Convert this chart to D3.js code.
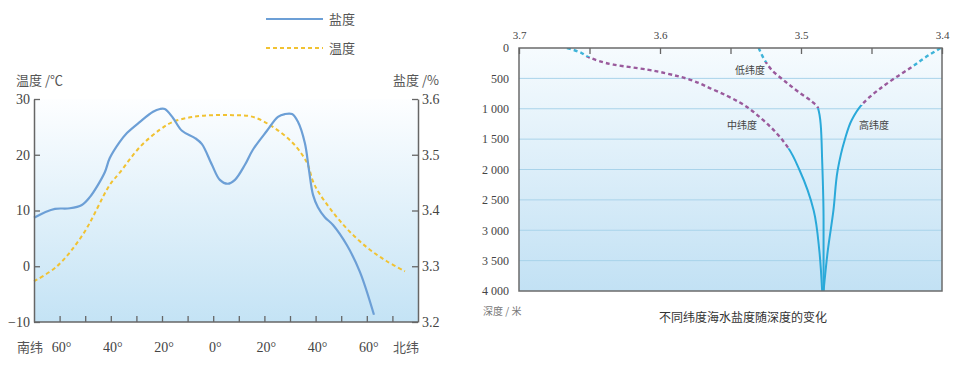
<!DOCTYPE html>
<html>
<head>
  <meta charset="utf-8">
  <title>海水盐度与温度</title>
  <style>
  body {
    margin: 0;
    background: #fff;
  }
  svg text.num {
    fill: #444;
  }
  svg text.cjk {
    font-family: "Noto Sans CJK SC", sans-serif;
    fill: #555;
  }
</style>
</head>
<body>
  <div id="viz"></div>

  <script src="https://d3js.org/d3.v7.min.js"></script>
  <script>
    // left chart: salinity / temperature by latitude
    const salLat = [-70, -65.7, -61.8, -56, -51.3, -48.2, -45, -42.3, -40.4, -36.5, -33.7, -28.6, -23.5, -20.8, -18.9, -15.7, -12.2, -7.1, -4.4, -0.5, 2.6, 5.7, 8.5, 12.4, 15.5, 21, 25.3, 28, 30.8, 33.1, 35.8, 37.4, 39, 40.9, 43.6, 46.8, 52.2, 57.3, 62.8];
    const salVal = [3.387, 3.397, 3.403, 3.404, 3.41, 3.424, 3.446, 3.469, 3.494, 3.523, 3.539, 3.559, 3.577, 3.582, 3.582, 3.566, 3.543, 3.53, 3.519, 3.482, 3.455, 3.448, 3.455, 3.482, 3.509, 3.543, 3.568, 3.573, 3.573, 3.559, 3.521, 3.473, 3.428, 3.406, 3.388, 3.374, 3.338, 3.29, 3.213];
    const tempLat = [-70, -61, -50.9, -40.4, -36.5, -28.6, -20.8, -15.7, -7.9, 0, 7.7, 15.5, 23.3, 31.1, 36.6, 39, 41.7, 50.7, 60, 67.8, 74.9];
    const tempVal = [-2.7, 0, 5.7, 14.6, 16.8, 21.4, 24.5, 25.9, 26.8, 27.1, 27.1, 26.8, 25, 22.1, 18.6, 15.2, 12.9, 7.5, 3.4, 0.9, -0.9];
    const tempTicks = [-10, 0, 10, 20, 30];
    const salTicks = [3.2, 3.3, 3.4, 3.5, 3.6];
    const latTicks = [-60, -50, -40, -30, -20, -10, 0, 10, 20, 30, 40, 50, 60, 70];
    const latLabelled = [-60, -40, -20, 0, 20, 40, 60];

    // right chart: salinity by depth for three latitude bands
    const depthTicks = [0, 500, 1000, 1500, 2000, 2500, 3000, 3500, 4000];
    const salTopTicks = [3.7, 3.65, 3.6, 3.55, 3.5, 3.45, 3.4];
    const midDepth = [0, 58, 157, 273, 356, 472, 687, 902, 1184, 1647, 2012, 2674, 3336, 4000];
    const midSal = [3.666, 3.658, 3.65, 3.633, 3.609, 3.586, 3.562, 3.543, 3.527, 3.509, 3.501, 3.491, 3.487, 3.485];
    const lowDepth = [0, 190, 356, 555, 737, 886, 985, 1267, 1846, 2840, 4000];
    const lowSal = [3.53, 3.526, 3.521, 3.511, 3.501, 3.492, 3.488, 3.486, 3.485, 3.484, 3.484];
    const highDepth = [0, 157, 306, 488, 687, 935, 1184, 1515, 2012, 2674, 3336, 4000];
    const highSal = [3.401, 3.412, 3.421, 3.433, 3.445, 3.457, 3.464, 3.469, 3.474, 3.477, 3.481, 3.484];
    // depth where surface (cyan dash) ends, and where dashed part ends
    const bandNames = ["中纬度", "低纬度", "高纬度"];
    const bandBreaks = [[150, 1650], [230, 990], [300, 940]];

    const serif = '"Times New Roman", "Liberation Serif", Times, serif';

    const svg = d3.select("#viz")
      .append("svg")
      .attr("width", 975)
      .attr("height", 370);

    const defs = svg.append("defs");
    const g1 = defs.append("linearGradient").attr("id", "bgL")
      .attr("x1", 0).attr("y1", 0).attr("x2", 0).attr("y2", 1);
    g1.append("stop").attr("offset", 0).attr("stop-color", "#fdfeff");
    g1.append("stop").attr("offset", 1).attr("stop-color", "#c4e3f5");
    const g2 = defs.append("linearGradient").attr("id", "bgR")
      .attr("x1", 0).attr("y1", 0).attr("x2", 0).attr("y2", 1);
    g2.append("stop").attr("offset", 0).attr("stop-color", "#f6fbfe");
    g2.append("stop").attr("offset", 1).attr("stop-color", "#c2e1f4");

    // ---------- left chart ----------
    let L = {left: 34, right: 418, top: 99, bottom: 322};
    let x = d3.scaleLinear().domain([-70, 80]).range([L.left, L.right]);
    let yT = d3.scaleLinear().domain([-10, 30]).range([L.bottom, L.top]);
    let yS = d3.scaleLinear().domain([3.2, 3.6]).range([L.bottom, L.top]);

    svg.append("rect")
      .attr("x", L.left).attr("y", L.top)
      .attr("width", L.right - L.left).attr("height", L.bottom - L.top)
      .attr("fill", "url(#bgL)");

    let tempLine = d3.line()
      .x(d => x(d[0])).y(d => yT(d[1]))
      .curve(d3.curveCatmullRom);
    let salLine = d3.line()
      .x(d => x(d[0])).y(d => yS(d[1]))
      .curve(d3.curveCatmullRom);

    svg.append("path")
      .attr("d", tempLine(d3.zip(tempLat, tempVal)))
      .attr("fill", "none")
      .attr("stroke", "#f1c232")
      .attr("stroke-width", 2)
      .attr("stroke-dasharray", "4,3");

    svg.append("path")
      .attr("d", salLine(d3.zip(salLat, salVal)))
      .attr("fill", "none")
      .attr("stroke", "#6c9fd6")
      .attr("stroke-width", 2.2);

    function styleAxis(g) {
      g.attr("font-family", serif);
      g.select(".domain").attr("stroke", "#666").attr("stroke-width", 1.5);
      g.selectAll(".tick line").attr("stroke", "#666").attr("stroke-width", 1.3);
      g.selectAll("text").attr("class", "num").attr("fill", "#444")
        .attr("font-family", serif);
    }

    svg.append("g")
      .attr("transform", `translate(${L.left},0)`)
      .call(d3.axisLeft(yT).tickValues(tempTicks).tickSize(-6).tickSizeOuter(0).tickPadding(4))
      .call(styleAxis)
      .selectAll("text").attr("font-size", 14);

    svg.append("g")
      .attr("transform", `translate(${L.right},0)`)
      .call(d3.axisRight(yS).tickValues(salTicks).tickSize(-6).tickSizeOuter(0).tickPadding(4)
        .tickFormat(d3.format(".1f")))
      .call(styleAxis)
      .selectAll("text").attr("font-size", 14);

    let gx = svg.append("g")
      .attr("transform", `translate(0,${L.bottom})`)
      .call(d3.axisBottom(x).tickValues(latTicks).tickSize(-6).tickSizeOuter(0)
        .tickFormat(d => ""))
      .call(styleAxis);
    gx.select(".domain").attr("d", `M${L.left},0H${L.right}`);

    svg.append("g").selectAll("text")
      .data(latLabelled)
      .join("text")
      .attr("class", "num")
      .attr("x", d => x(d) + 2)
      .attr("y", 352)
      .attr("text-anchor", "middle")
      .attr("font-family", serif)
      .attr("font-size", 14)
      .text(d => Math.abs(d) + "°");

    svg.append("text").attr("class", "cjk").attr("x", 17).attr("y", 352)
      .style("font-size", "13px").text("南纬");
    svg.append("text").attr("class", "cjk").attr("x", 393).attr("y", 352)
      .style("font-size", "13px").text("北纬");
    svg.append("text").attr("class", "cjk").attr("x", 16).attr("y", 85)
      .style("font-size", "13px").text("温度 /℃");
    svg.append("text").attr("class", "cjk").attr("x", 393).attr("y", 85)
      .style("font-size", "13px").text("盐度 /%");

    // legend
    svg.append("line").attr("x1", 266).attr("x2", 323).attr("y1", 19).attr("y2", 19)
      .attr("stroke", "#6c9fd6").attr("stroke-width", 2.2);
    svg.append("line").attr("x1", 266).attr("x2", 323).attr("y1", 48).attr("y2", 48)
      .attr("stroke", "#f1c232").attr("stroke-width", 2.2).attr("stroke-dasharray", "4,3");
    svg.append("text").attr("class", "cjk").attr("x", 329).attr("y", 24)
      .style("font-size", "13px").text("盐度");
    svg.append("text").attr("class", "cjk").attr("x", 329).attr("y", 53)
      .style("font-size", "13px").text("温度");

    // ---------- right chart ----------
    let R = {left: 519, right: 942, top: 48, bottom: 291};
    let xR = d3.scaleLinear().domain([3.7, 3.4]).range([R.left, R.right]);
    let yD = d3.scaleLinear().domain([0, 4000]).range([R.top, R.bottom]);

    svg.append("rect")
      .attr("x", R.left).attr("y", R.top)
      .attr("width", R.right - R.left).attr("height", R.bottom - R.top)
      .attr("fill", "url(#bgR)");

    svg.append("g").selectAll("line")
      .data(depthTicks.slice(1, -1))
      .join("line")
      .attr("x1", R.left).attr("x2", R.right)
      .attr("y1", d => yD(d)).attr("y2", d => yD(d))
      .attr("stroke", "#a9d3ea")
      .attr("stroke-width", 1);

    let depthLine = d3.line()
      .x(d => xR(d[1])).y(d => yD(d[0]))
      .curve(d3.curveMonotoneY);

    let series = [
      d3.zip(midDepth, midSal),
      d3.zip(lowDepth, lowSal),
      d3.zip(highDepth, highSal)
    ];

    series.forEach((pts, i) => {
      let [b1, b2] = bandBreaks[i];
      let bands = [
        {from: 0, to: b1, stroke: "#3fb4d9", dash: "4,3", w: 2.4},
        {from: b1, to: b2, stroke: "#9a5a9c", dash: "4,3", w: 2.4},
        {from: b2, to: 4000, stroke: "#2aa9d9", dash: null, w: 2}
      ];
      bands.forEach((b, j) => {
        let id = `clip-${i}-${j}`;
        defs.append("clipPath").attr("id", id)
          .append("rect")
          .attr("x", R.left).attr("width", R.right - R.left)
          .attr("y", yD(b.from)).attr("height", yD(b.to) - yD(b.from));
        svg.append("path")
          .attr("d", depthLine(pts))
          .attr("clip-path", `url(#${id})`)
          .attr("fill", "none")
          .attr("stroke", b.stroke)
          .attr("stroke-width", b.w)
          .attr("stroke-dasharray", b.dash);
      });
    });

    // frame
    svg.append("rect")
      .attr("x", R.left).attr("y", R.top)
      .attr("width", R.right - R.left).attr("height", R.bottom - R.top)
      .attr("fill", "none")
      .attr("stroke", "#6b6b6b")
      .attr("stroke-width", 1.5);

    let gTop = svg.append("g")
      .attr("transform", `translate(0,${R.top})`)
      .call(d3.axisTop(xR).tickValues(salTopTicks).tickSize(-6).tickSizeOuter(0).tickPadding(9)
        .tickFormat(d => Math.round(d * 100) % 10 === 0 ? d3.format(".1f")(d) : ""))
      .call(styleAxis);
    gTop.select(".domain").remove();
    gTop.selectAll("text").attr("font-size", 11);

    let gLeft = svg.append("g")
      .attr("transform", `translate(${R.left},0)`)
      .call(d3.axisLeft(yD).tickValues(depthTicks).tickSize(0).tickPadding(10)
        .tickFormat(d => d3.format(",")(d).replace(",", " ")))
      .call(styleAxis);
    gLeft.select(".domain").remove();
    gLeft.selectAll("text").attr("font-size", 12);

    // band labels
    let labelPos = [[742, 129], [750, 74], [874, 129]];
    svg.append("g").selectAll("text")
      .data(bandNames)
      .join("text")
      .attr("class", "cjk")
      .attr("x", (d, i) => labelPos[i][0])
      .attr("y", (d, i) => labelPos[i][1])
      .attr("text-anchor", "middle")
      .style("font-size", "10px")
      .style("fill", "#444")
      .text(d => d);

    svg.append("text").attr("class", "cjk").attr("x", 483).attr("y", 315)
      .style("font-size", "10px").style("fill", "#777").text("深度 / 米");
    svg.append("text").attr("class", "cjk").attr("x", 743).attr("y", 322)
      .attr("text-anchor", "middle")
      .style("font-size", "12px").style("fill", "#333").text("不同纬度海水盐度随深度的变化");
  </script>
</body>
</html>
